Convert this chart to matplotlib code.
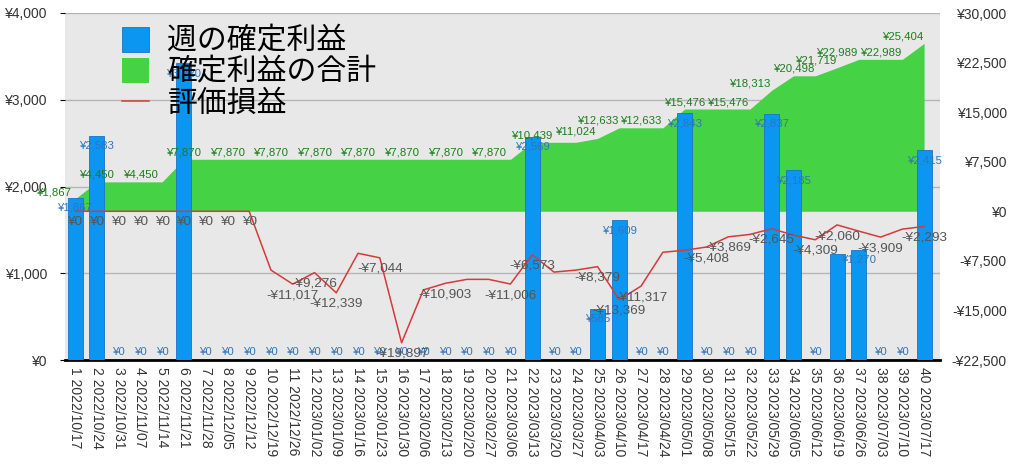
import matplotlib
matplotlib.use("Agg")
import matplotlib.pyplot as plt
from matplotlib.patches import Patch
from matplotlib.lines import Line2D
import numpy as np

plt.rcParams['font.family'] = ['Liberation Sans', 'Noto Sans CJK JP', 'DejaVu Sans']

dates = ['2022/10/17', '2022/10/24', '2022/10/31', '2022/11/07', '2022/11/14',
         '2022/11/21', '2022/11/28', '2022/12/05', '2022/12/12', '2022/12/19',
         '2022/12/26', '2023/01/02', '2023/01/09', '2023/01/16', '2023/01/23',
         '2023/01/30', '2023/02/06', '2023/02/13', '2023/02/20', '2023/02/27',
         '2023/03/06', '2023/03/13', '2023/03/20', '2023/03/27', '2023/04/03',
         '2023/04/10', '2023/04/17', '2023/04/24', '2023/05/01', '2023/05/08',
         '2023/05/15', '2023/05/22', '2023/05/29', '2023/06/05', '2023/06/12',
         '2023/06/19', '2023/06/26', '2023/07/03', '2023/07/10', '2023/07/17']

# 週の確定利益 (left axis)
weekly = [1867, 2583, 0, 0, 0, 3420, 0, 0, 0, 0,
          0, 0, 0, 0, 0, 0, 0, 0, 0, 0,
          0, 2569, 0, 0, 585, 1609, 0, 0, 2843, 0,
          0, 0, 2837, 2185, 0, 1221, 1270, 0, 0, 2415]

# 確定利益の合計 (right axis)
total = [1867, 4450, 4450, 4450, 4450, 7870, 7870, 7870, 7870, 7870,
         7870, 7870, 7870, 7870, 7870, 7870, 7870, 7870, 7870, 7870,
         7870, 10439, 10439, 10439, 11024, 12633, 12633, 12633, 15476, 15476,
         15476, 15476, 18313, 20498, 20498, 21719, 22989, 22989, 22989, 25404]

# 評価損益 (right axis)
valuation = [0, 0, 0, 0, 0, 0, 0, 0, 0, -8900,
             -11017, -9276, -12339, -6350, -7044, -19897, -11900, -10903, -10300, -10300,
             -11006, -6573, -9200, -8900, -8379, -13369, -11317, -6200, -5900, -5408,
             -3869, -3500, -2645, -3600, -4309, -2060, -3000, -3909, -2700, -2293]

# which value labels are visible in the original (1-based week numbers)
total_label_weeks = [1, 3, 5, 7, 9, 11, 13, 15, 17, 19, 21, 23, 25, 26, 28, 30,
                     32, 33, 35, 36, 37, 39, 40]
line_label_weeks = [1, 2, 3, 4, 5, 6, 7, 8, 9, 11, 12, 13, 15, 16, 18, 21, 22,
                    25, 26, 27, 30, 31, 33, 35, 36, 38, 40]
bar_hidden_weeks = [36]

left_ticks = [0, 1000, 2000, 3000, 4000]
right_ticks = [-22500, -15000, -7500, 0, 7500, 15000, 22500, 30000]


def yen(v):
    return ('-' if v < 0 else '') + '¥{:,}'.format(abs(v))


def main():
    x = np.arange(len(dates))
    fig = plt.figure(figsize=(10.24, 4.76), dpi=100)

    # base axes: background, grid, green area (right scale)
    ax = fig.add_axes([65 / 1024, 116 / 476, 875 / 1024, 347 / 476])
    ax.set_facecolor('#e8e8e8')
    ax.set_xlim(-0.46, 39.73)
    ax.set_ylim(right_ticks[0], right_ticks[-1])
    lo, hi = right_ticks[0], right_ticks[-1]
    grid_pos = [lo + t / left_ticks[-1] * (hi - lo) for t in left_ticks]
    ax.set_yticks(grid_pos)
    ax.tick_params(axis='y', left=False, labelleft=False)
    ax.grid(axis='y', color='#b5b5b5', lw=1)
    ax.set_axisbelow(True)
    ax.fill_between(x, 0, total, color='#45d345', lw=0)

    ax.set_xticks(x)
    ax.set_xticklabels(['%d %s' % (i + 1, d) for i, d in enumerate(dates)],
                       rotation=270, fontsize=10, color='#333333')
    ax.tick_params(axis='x', length=0, pad=5)
    for s in ['top', 'left', 'right']:
        ax.spines[s].set_visible(False)
    ax.spines['bottom'].set_color('black')
    ax.spines['bottom'].set_linewidth(2)
    ax.spines['bottom'].set_zorder(5)

    # bars (left scale)
    axb = ax.twinx()
    axb.yaxis.tick_left()
    axb.set_ylim(left_ticks[0], left_ticks[-1])
    axb.set_yticks(left_ticks)
    axb.set_yticklabels([yen(t) for t in left_ticks], fontsize=10, color='#333333')
    axb.tick_params(axis='y', length=0, pad=13)
    for s in axb.spines.values():
        s.set_visible(False)
    axb.bar(x, weekly, width=0.69, color='#0b96f2', edgecolor='#1a74c4', lw=0.6)
    for i, v in enumerate(weekly):
        if i + 1 in bar_hidden_weeks:
            continue
        off = -7 if v > 0 else 6
        axb.annotate(yen(v), (x[i], v), xytext=(0, off), textcoords='offset points',
                     ha='center', va='center', fontsize=8.2, color='#3275ba')

    # line + labels (right scale)
    axl = ax.twinx()
    axl.set_ylim(right_ticks[0], right_ticks[-1])
    axl.set_yticks(right_ticks)
    axl.set_yticklabels([yen(t) for t in right_ticks], fontsize=10, color='#333333')
    for lab in axl.get_yticklabels():
        lab.set_ha('right')
    axl.tick_params(axis='y', length=0, pad=48)
    for s in axl.spines.values():
        s.set_visible(False)
    axl.plot(x, valuation, color='#d63a3a', lw=1.1)

    for w in line_label_weeks:
        i = w - 1
        axl.annotate(yen(valuation[i]), (x[i], valuation[i]), xytext=(0, -8),
                     textcoords='offset points', ha='center', va='center',
                     fontsize=9.7, color='#555555')
    for w in total_label_weeks:
        i = w - 1
        axl.annotate(yen(total[i]), (x[i] - 1, total[i]), xytext=(0, 5),
                     textcoords='offset points', ha='center', va='center',
                     fontsize=8.2, color='#1d7d1d', annotation_clip=False)

    handles = [Patch(facecolor='#0b96f2', edgecolor='#1a74c4', lw=0.6),
               Patch(facecolor='#45d345', lw=0),
               Line2D([0], [0], color='#d63a3a', lw=1.1)]
    fig.legend(handles, ['週の確定利益', '確定利益の合計', '評価損益'],
               loc='upper left', bbox_to_anchor=(122 / 1024, 1 - 27 / 476),
               frameon=False, fontsize=21.5, handlelength=0.9, handleheight=0.9,
               handletextpad=0.62, labelspacing=0.08, borderpad=0, borderaxespad=0)

    fig.savefig('out.png', dpi=100)


if __name__ == "__main__":
    main()
